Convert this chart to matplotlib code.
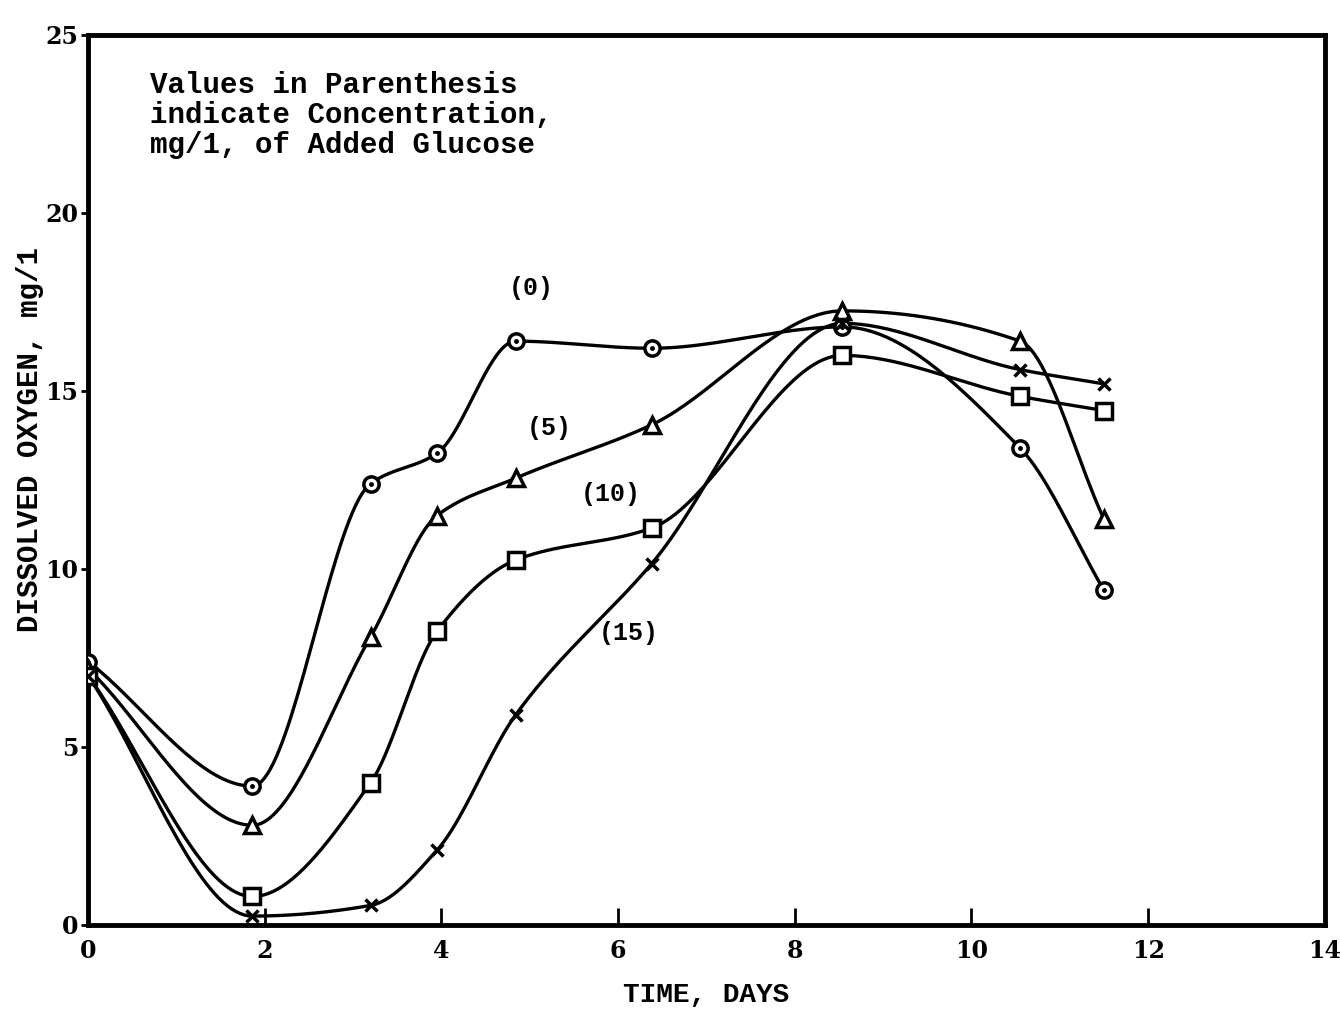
import numpy as np
import matplotlib.pyplot as plt

# time of each sample, days
days = [0.0, 1.86, 3.2, 3.95, 4.84, 6.38, 8.54, 10.55, 11.5]

# dissolved oxygen (mg/l) for each glucose dose
do_0 = [7.4, 3.9, 12.4, 13.25, 16.4, 16.2, 16.8, 13.4, 9.4]
do_5 = [7.2, 2.8, 8.1, 11.5, 12.55, 14.05, 17.25, 16.4, 11.4]
do_10 = [7.0, 0.8, 4.0, 8.25, 10.25, 11.15, 16.0, 14.85, 14.45]
do_15 = [7.0, 0.25, 0.55, 2.1, 5.9, 10.15, 16.9, 15.6, 15.2]

labels = ['(0)', '(5)', '(10)', '(15)']
label_pos = [(5.02, 17.9), (5.22, 13.95), (5.92, 12.1), (6.12, 8.2)]
markers = ['o', '^', 's', 'x']

def smooth(x, y, n=40):
    # monotone cubic (Fritsch-Carlson) through the points, for drawing only
    x = np.asarray(x, float)
    y = np.asarray(y, float)
    h = np.diff(x)
    d = np.diff(y) / h
    m = np.zeros_like(y)
    for i in range(1, len(y) - 1):
        if d[i - 1] * d[i] > 0:
            w1 = 2 * h[i] + h[i - 1]
            w2 = h[i] + 2 * h[i - 1]
            m[i] = (w1 + w2) / (w1 / d[i - 1] + w2 / d[i])
    m[0] = d[0]
    m[-1] = d[-1]
    xs, ys = [], []
    t = np.linspace(0, 1, n)
    for i in range(len(h)):
        h00 = 2 * t**3 - 3 * t**2 + 1
        h10 = t**3 - 2 * t**2 + t
        h01 = -2 * t**3 + 3 * t**2
        h11 = t**3 - t**2
        xs.extend(x[i] + t * h[i])
        ys.extend(h00 * y[i] + h10 * h[i] * m[i] + h01 * y[i + 1] + h11 * h[i] * m[i + 1])
    return np.array(xs), np.array(ys)

fig = plt.figure(figsize=(13.4, 10.14), dpi=100)
ax = fig.add_axes([0.0657, 0.0878, 0.923, 0.8777])

mono = 'Liberation Mono'
serif = 'DejaVu Serif'
for series, m in zip([do_0, do_5, do_10, do_15], markers):
    sx, sy = smooth(days, series)
    ax.plot(sx, sy, color='black', lw=2.4, zorder=2)
    if m == 'x':
        ax.plot(days, series, ls='none', marker='x', ms=8, mew=2.5,
                color='black', zorder=3)
    else:
        ax.plot(days, series, ls='none', marker=m, ms=11, mew=2.5,
                mfc='white', mec='black', zorder=3)
        if m == 'o':
            ax.plot(days, series, ls='none', marker='o', ms=2.5,
                    color='black', zorder=4)

for lab, (lx, ly) in zip(labels, label_pos):
    ax.text(lx, ly, lab, fontsize=18, fontweight='bold', family=mono,
            ha='center', va='center')

ax.text(0.7, 24.0, 'Values in Parenthesis\nindicate Concentration,\nmg/1, of Added Glucose',
        fontsize=21, fontweight='bold', family=mono, va='top', ha='left',
        linespacing=1.1)

ax.set_xlim(0, 14)
ax.set_ylim(0, 25)
ax.set_xticks(range(0, 15, 2))
ax.set_yticks(range(0, 26, 5))
ax.tick_params(axis='x', direction='in', length=12, width=2, pad=10)
ax.tick_params(axis='y', direction='out', length=5, width=2, pad=2)
for lab in ax.get_xticklabels() + ax.get_yticklabels():
    lab.set_fontsize(17)
    lab.set_fontweight('bold')
    lab.set_family(serif)
for s in ax.spines.values():
    s.set_linewidth(3.5)

ax.set_xlabel('TIME, DAYS', fontsize=20, fontweight='bold', family=mono, labelpad=14)
ax.set_ylabel('DISSOLVED OXYGEN, mg/1', fontsize=21, fontweight='bold', family=mono)
ax.yaxis.set_label_coords(-0.036, 0.545)

fig.savefig('out.png', dpi=100)
